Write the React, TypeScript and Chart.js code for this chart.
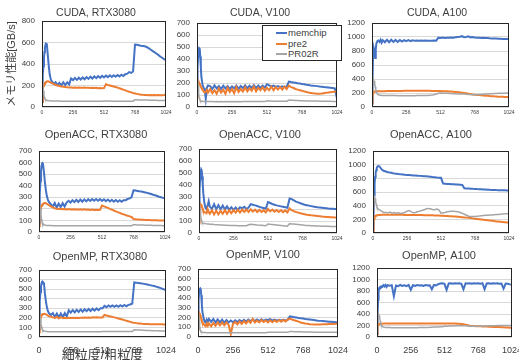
import React, { useEffect, useRef } from "react";
import { Chart, registerables } from "chart.js";

Chart.register(...registerables);

const FONT = '"Liberation Sans", "Noto Sans CJK JP", Arial, sans-serif';
const BLUE = "#4472C4";
const ORANGE = "#ED7D31";
const GRAY = "#A5A5A5";
const TEXT = "#404040";

const seriesNames = ["memchip", "pre2", "PR02R"];

// shared x positions (granularity)
const X = [
  0, 4, 8, 12, 16, 20, 24, 28, 32, 40, 48, 56, 64, 72, 80,
  96, 112, 128, 144, 160, 176, 192, 208, 224, 240, 256, 272, 288, 304, 320, 336,
  352, 368, 384, 400, 416, 432, 448, 464, 480, 496, 512, 528, 544, 560, 576, 592,
  608, 624, 640, 656, 672, 688, 704, 720, 736, 752, 768, 784, 800, 816, 832, 848,
  864, 880, 896, 912, 928, 944, 960, 976, 992, 1008, 1024,
];

const xTicks = [0, 256, 512, 768, 1024];
const yTicks800 = [0, 200, 400, 600, 800];
const yTicks700 = [0, 100, 200, 300, 400, 500, 600, 700];
const yTicks1200 = [0, 200, 400, 600, 800, 1000, 1200];

// ---- CUDA, RTX3080
const cudaRtxMem = [
  50, 200, 300, 380, 450, 510, 550, 575, 590, 585, 480, 380, 300, 260, 240,
  215, 230, 205, 225, 200, 230, 205, 230, 210, 265, 250, 270, 252, 272, 255, 275,
  258, 278, 262, 282, 265, 285, 268, 288, 272, 290, 275, 292, 278, 295, 280, 296,
  282, 298, 285, 300, 288, 305, 310, 325, 318, 330, 580, 578, 575, 570, 568, 565,
  558, 548, 535, 522, 510, 498, 485, 470, 458, 446, 435,
];
const cudaRtxPre2 = [
  50, 120, 170, 195, 205, 215, 222, 228, 232, 238, 240, 238, 232, 228, 222,
  215, 205, 200, 195, 190, 188, 185, 183, 182, 182, 180, 182, 180, 181, 179, 180,
  181, 178, 180, 177, 179, 176, 178, 175, 177, 174, 176, 212, 205, 200, 195, 190,
  186, 180, 174, 168, 162, 155, 148, 142, 136, 130, 126, 122, 118, 115, 113, 112,
  112, 110, 111, 110, 112, 110, 111, 109, 110, 112, 115,
];
const cudaRtxPr02r = [
  150, 240, 200, 150, 110, 90, 78, 70, 66, 62, 60, 58, 57, 57, 56,
  56, 55, 55, 55, 54, 54, 54, 54, 54, 54, 53, 53, 53, 53, 53, 53,
  53, 53, 53, 53, 53, 53, 53, 53, 53, 53, 55, 55, 55, 55, 54, 54,
  54, 54, 54, 54, 54, 54, 54, 54, 54, 54, 68, 67, 66, 66, 65, 65,
  64, 64, 63, 63, 62, 62, 61, 61, 60, 60, 60,
];

// ---- CUDA, V100
const cudaV100Mem = [
  230, 330, 420, 470, 490, 485, 420, 330, 250, 190, 160, 150, 70, 160, 180,
  175, 150, 180, 155, 175, 150, 178, 155, 175, 150, 172, 155, 178, 152, 175, 158,
  180, 155, 178, 160, 182, 158, 180, 160, 178, 162, 190, 180, 172, 178, 168, 175,
  165, 172, 166, 170, 212, 208, 205, 202, 198, 195, 192, 190, 186, 183, 180, 178,
  176, 174, 171, 169, 166, 164, 162, 160, 158, 155, 70,
];
const cudaV100Pre2 = [
  80, 180, 220, 210, 200, 190, 180, 170, 160, 150, 130, 120, 125, 140, 120,
  150, 115, 140, 110, 155, 120, 145, 110, 160, 125, 150, 115, 165, 125, 150, 130,
  165, 130, 155, 135, 170, 130, 160, 140, 165, 135, 160, 140, 170, 140, 165, 145,
  165, 145, 170, 150, 180, 165, 160, 150, 145, 140, 135, 130, 125, 120, 117, 114,
  112, 110, 110, 112, 115, 118, 120, 123, 126, 128, 130,
];
const cudaV100Pr02r = [
  150, 250, 180, 110, 80, 65, 55, 50, 48, 47, 46, 46, 45, 45, 45,
  45, 45, 44, 45, 44, 45, 44, 45, 44, 45, 44, 45, 44, 45, 44, 45,
  45, 45, 45, 45, 45, 45, 45, 45, 45, 45, 52, 50, 49, 48, 48, 47,
  47, 47, 47, 47, 58, 57, 56, 55, 54, 53, 52, 52, 51, 51, 50, 50,
  49, 49, 48, 48, 48, 47, 47, 47, 46, 46, 46,
];

// ---- CUDA, A100
const cudaA100Mem = [
  50, 400, 750, 850, 820, 760, 700, 820, 900, 940, 950, 930, 960, 920, 955,
  925, 960, 925, 960, 930, 958, 930, 958, 935, 955, 940, 955, 942, 952, 945, 950,
  945, 950, 945, 950, 946, 948, 946, 950, 948, 990, 985, 992, 985, 990, 988, 992,
  990, 995, 1000, 1005, 1012, 998, 1000, 1010, 995, 1000, 992, 988, 990, 985, 990, 985,
  985, 982, 980, 978, 980, 976, 975, 972, 970, 970, 968,
];
const cudaA100Pre2 = [
  50, 150, 200, 215, 220, 222, 222, 224, 225, 225, 225, 226, 226, 226, 226,
  226, 227, 228, 228, 229, 229, 230, 230, 230, 231, 231, 231, 231, 232, 232, 232,
  232, 232, 232, 232, 231, 231, 230, 230, 229, 228, 227, 226, 225, 224, 222, 220,
  218, 215, 212, 210, 205, 200, 195, 190, 185, 180, 176, 172, 170, 168, 165, 162,
  160, 157, 155, 152, 150, 148, 146, 145, 143, 142, 140,
];
const cudaA100Pr02r = [
  100, 300, 380, 390, 370, 330, 290, 250, 220, 190, 175, 170, 168, 166, 165,
  165, 164, 164, 163, 163, 163, 162, 162, 162, 162, 162, 162, 162, 162, 162, 163,
  163, 164, 165, 165, 166, 168, 170, 175, 185, 195, 200, 198, 196, 195, 194, 192,
  190, 188, 187, 186, 185, 184, 182, 180, 178, 176, 175, 176, 178, 180, 182, 185,
  187, 189, 191, 193, 194, 195, 196, 197, 198, 199, 200,
];

// ---- OpenACC, RTX3080
const accRtxMem = [
  80, 200, 330, 440, 520, 570, 590, 595, 590, 520, 430, 360, 310, 280, 260,
  240, 220, 250, 210, 245, 215, 250, 220, 255, 270, 255, 275, 258, 278, 260, 280,
  262, 282, 265, 283, 268, 285, 270, 285, 270, 284, 268, 282, 266, 280, 264, 278,
  262, 276, 262, 275, 262, 274, 275, 285, 290, 300, 360, 358, 355, 352, 350, 346,
  342, 338, 333, 328, 322, 317, 311, 305, 300, 295, 290,
];
const accRtxPre2 = [
  50, 120, 170, 200, 215, 225, 232, 238, 242, 248, 250, 248, 244, 238, 232,
  222, 212, 205, 200, 198, 200, 196, 198, 195, 198, 195, 197, 194, 196, 193, 196,
  193, 196, 192, 195, 191, 194, 190, 193, 190, 192, 228, 222, 215, 208, 200, 193,
  186, 178, 172, 165, 158, 152, 146, 140, 135, 130, 112, 110, 108, 107, 106, 105,
  104, 103, 103, 102, 102, 101, 101, 100, 100, 100, 100,
];
const accRtxPr02r = [
  80, 180, 230, 200, 150, 110, 90, 78, 70, 64, 60, 58, 57, 56, 56,
  56, 55, 55, 55, 55, 55, 55, 55, 55, 55, 55, 55, 55, 55, 55, 55,
  55, 55, 55, 55, 55, 55, 55, 55, 55, 55, 55, 55, 55, 55, 55, 55,
  55, 55, 55, 55, 55, 55, 55, 55, 55, 55, 62, 62, 61, 61, 60, 60,
  59, 59, 58, 58, 57, 57, 56, 56, 56, 55, 55,
];

// ---- OpenACC, V100
const accV100Mem = [
  200, 350, 450, 510, 530, 520, 470, 400, 330, 250, 210, 200, 230, 265, 220,
  200, 240, 198, 232, 196, 228, 195, 222, 194, 215, 193, 212, 192, 215, 205, 218,
  200, 212, 240, 235, 230, 225, 218, 212, 208, 203, 258, 250, 242, 235, 230, 226,
  222, 218, 214, 210, 288, 282, 272, 262, 255, 248, 242, 236, 232, 228, 224, 220,
  217, 214, 212, 210, 208, 206, 204, 203, 202, 201, 200,
];
const accV100Pre2 = [
  80, 180, 230, 240, 235, 225, 210, 195, 185, 175, 170, 165, 200, 175, 160,
  190, 155, 185, 155, 185, 160, 190, 160, 190, 165, 190, 170, 195, 170, 195, 175,
  195, 175, 198, 178, 195, 175, 192, 175, 190, 172, 200, 180, 195, 178, 192, 176,
  190, 174, 188, 172, 205, 190, 182, 175, 170, 165, 160, 156, 152, 150, 147, 145,
  143, 141, 139, 137, 136, 134, 133, 132, 131, 130, 128,
];
const accV100Pr02r = [
  150, 250, 200, 150, 110, 95, 88, 84, 82, 80, 78, 76, 75, 74, 73,
  72, 70, 69, 68, 67, 66, 65, 64, 63, 63, 62, 62, 61, 61, 60, 60,
  60, 68, 72, 70, 68, 66, 65, 64, 62, 60, 75, 72, 70, 68, 66, 64,
  62, 60, 58, 56, 78, 76, 74, 72, 70, 68, 66, 64, 63, 62, 61, 60,
  59, 58, 58, 57, 57, 56, 56, 55, 55, 55, 54,
];

// ---- OpenACC, A100
const accA100Mem = [
  50, 300, 550, 720, 820, 880, 920, 950, 970, 980, 975, 955, 935, 920, 910,
  900, 890, 885, 878, 872, 868, 862, 858, 855, 852, 850, 848, 845, 842, 840, 838,
  836, 834, 832, 830, 826, 822, 818, 815, 812, 810, 808, 722, 720, 718, 716, 714,
  712, 710, 708, 706, 704, 655, 652, 650, 648, 646, 645, 643, 642, 640, 638, 636,
  634, 632, 631, 630, 628, 627, 626, 625, 624, 623, 622,
];
const accA100Pre2 = [
  30, 150, 210, 235, 245, 250, 255, 258, 260, 262, 264, 265, 266, 267, 268,
  268, 268, 268, 267, 267, 267, 266, 266, 266, 265, 265, 265, 264, 264, 263, 263,
  262, 262, 261, 260, 260, 259, 258, 257, 256, 255, 254, 252, 250, 248, 246, 244,
  242, 240, 237, 234, 231, 228, 225, 222, 218, 214, 210, 206, 202, 198, 194, 190,
  186, 182, 178, 174, 170, 167, 164, 161, 158, 155, 152,
];
const accA100Pr02r = [
  100, 350, 480, 520, 500, 460, 420, 390, 370, 350, 340, 330, 320, 310, 300,
  300, 295, 305, 290, 300, 288, 295, 285, 292, 300, 320, 330, 310, 295, 300, 310,
  320, 330, 340, 350, 360, 355, 345, 340, 350, 340, 290, 295, 300, 310, 315, 320,
  318, 315, 310, 300, 290, 275, 260, 245, 240, 240, 242, 245, 248, 252, 255, 258,
  260, 263, 265, 268, 270, 272, 275, 278, 280, 283, 285,
];

// ---- OpenMP, RTX3080
const mpRtxMem = [
  80, 250, 380, 470, 530, 560, 575, 580, 580, 560, 450, 370, 310, 270, 250,
  230, 250, 210, 245, 205, 245, 210, 250, 215, 280, 255, 282, 258, 285, 262, 288,
  265, 290, 270, 293, 272, 296, 276, 298, 280, 300, 300, 325, 312, 330, 315, 330,
  315, 330, 316, 332, 318, 334, 320, 336, 340, 350, 570, 568, 565, 562, 558, 555,
  551, 547, 542, 537, 532, 526, 520, 513, 505, 497, 488,
];
const mpRtxPre2 = [
  50, 130, 180, 205, 220, 228, 235, 238, 240, 242, 240, 236, 230, 224, 218,
  212, 205, 200, 210, 195, 205, 198, 200, 197, 200, 198, 200, 198, 201, 199, 202,
  200, 203, 201, 204, 202, 205, 203, 205, 203, 205, 204, 230, 225, 220, 215, 210,
  205, 200, 194, 188, 182, 176, 170, 164, 158, 152, 148, 145, 142, 140, 138, 137,
  136, 135, 134, 134, 133, 133, 132, 132, 132, 131, 130,
];
const mpRtxPr02r = [
  80, 200, 230, 190, 140, 110, 90, 78, 70, 64, 60, 58, 57, 56, 56,
  55, 55, 55, 55, 55, 55, 55, 55, 55, 55, 55, 55, 55, 55, 55, 55,
  55, 55, 55, 55, 55, 55, 55, 55, 55, 55, 57, 57, 57, 57, 57, 57,
  57, 57, 57, 57, 57, 57, 57, 57, 57, 57, 75, 74, 73, 72, 71, 70,
  69, 68, 67, 66, 65, 64, 64, 63, 63, 62, 62,
];

// ---- OpenMP, V100
const mpV100Mem = [
  250, 380, 460, 495, 500, 490, 430, 340, 260, 200, 160, 150, 180, 160, 185,
  155, 185, 150, 180, 150, 178, 148, 175, 150, 170, 152, 172, 155, 175, 158, 178,
  160, 180, 162, 182, 165, 180, 165, 182, 166, 180, 175, 185, 170, 180, 168, 178,
  170, 178, 170, 176, 212, 208, 204, 200, 196, 193, 190, 186, 183, 180, 177, 174,
  171, 168, 166, 164, 162, 160, 158, 156, 154, 152, 150,
];
const mpV100Pre2 = [
  80, 200, 250, 240, 225, 205, 185, 165, 150, 135, 120, 110, 140, 115, 140,
  110, 145, 115, 150, 120, 150, 120, 150, 125, 30, 135, 155, 130, 160, 135, 165,
  140, 170, 145, 185, 150, 170, 150, 175, 155, 170, 150, 172, 152, 172, 155, 175,
  158, 175, 160, 178, 190, 180, 172, 165, 158, 150, 145, 140, 136, 132, 130, 128,
  128, 128, 129, 130, 131, 132, 133, 134, 135, 136, 138,
];
const mpV100Pr02r = [
  120, 260, 180, 110, 75, 60, 52, 50, 48, 47, 46, 46, 45, 45, 45,
  45, 45, 45, 45, 45, 45, 45, 45, 45, 45, 45, 45, 45, 45, 45, 45,
  45, 45, 45, 45, 45, 45, 45, 45, 45, 45, 50, 49, 49, 48, 48, 48,
  48, 48, 48, 48, 57, 56, 55, 54, 53, 53, 52, 52, 51, 51, 51, 50,
  50, 50, 49, 49, 49, 48, 48, 48, 48, 48, 48,
];

// ---- OpenMP, A100
const mpA100Mem = [
  50, 350, 650, 800, 850, 860, 870, 865, 880, 870, 900, 880, 905, 870, 900,
  890, 900, 710, 895, 885, 905, 890, 900, 885, 905, 820, 900, 890, 905, 895, 900,
  890, 905, 895, 900, 830, 905, 895, 920, 930, 935, 925, 820, 930, 935, 925, 935,
  930, 935, 925, 830, 935, 930, 935, 925, 935, 930, 935, 925, 935, 830, 930, 935,
  925, 935, 930, 935, 925, 930, 840, 930, 925, 915, 910,
];
const mpA100Pre2 = [
  50, 160, 210, 225, 228, 230, 230, 232, 232, 232, 233, 233, 233, 234, 234,
  234, 234, 235, 235, 235, 235, 235, 236, 236, 236, 236, 236, 236, 236, 236, 236,
  236, 236, 236, 236, 236, 236, 236, 236, 236, 235, 235, 235, 235, 234, 234, 233,
  232, 230, 226, 220, 212, 204, 196, 192, 190, 188, 186, 185, 184, 183, 182, 180,
  178, 176, 175, 173, 172, 170, 168, 166, 164, 162, 160,
];
const mpA100Pr02r = [
  100, 300, 390, 400, 370, 330, 280, 240, 210, 185, 172, 168, 166, 165, 165,
  164, 163, 163, 162, 162, 162, 161, 161, 161, 162, 162, 162, 163, 163, 164, 164,
  165, 166, 167, 168, 170, 172, 174, 176, 178, 180, 185, 188, 190, 192, 193, 194,
  195, 196, 196, 195, 194, 192, 190, 188, 186, 185, 185, 186, 188, 190, 192, 194,
  195, 196, 197, 198, 199, 200, 200, 201, 201, 202, 202,
];

type PanelCfg = {
  title: string;
  series: number[][];
  yTicks: number[];
  L: number; T: number; R: number; B: number;
  cx: number; cy: number; titleSize: number;
  YW: number; XH: number; xFont: number; xPad: number;
  yTitle?: string; xTitle?: string;
};

const panels: PanelCfg[] = [
  { title: "CUDA, RTX3080", series: [cudaRtxMem, cudaRtxPre2, cudaRtxPr02r], yTicks: yTicks800,
    L: 42, T: 21, R: 166, B: 107, cx: 96, cy: 13, titleSize: 10.5, YW: 42, XH: 12, xFont: 5, xPad: 3,
    yTitle: "メモリ性能[GB/s]" },
  { title: "CUDA, V100", series: [cudaV100Mem, cudaV100Pre2, cudaV100Pr02r], yTicks: yTicks700,
    L: 197, T: 23, R: 337, B: 107, cx: 260, cy: 13, titleSize: 10.5, YW: 30, XH: 12, xFont: 5, xPad: 3 },
  { title: "CUDA, A100", series: [cudaA100Mem, cudaA100Pre2, cudaA100Pr02r], yTicks: yTicks1200,
    L: 372, T: 23, R: 509, B: 107, cx: 437, cy: 13, titleSize: 10.5, YW: 30, XH: 12, xFont: 5, xPad: 3 },
  { title: "OpenACC, RTX3080", series: [accRtxMem, accRtxPre2, accRtxPr02r], yTicks: yTicks700,
    L: 39, T: 151, R: 165, B: 232, cx: 96, cy: 135, titleSize: 11, YW: 30, XH: 12, xFont: 5, xPad: 3 },
  { title: "OpenACC, V100", series: [accV100Mem, accV100Pre2, accV100Pr02r], yTicks: yTicks700,
    L: 199, T: 149, R: 337, B: 233, cx: 260, cy: 135, titleSize: 11, YW: 30, XH: 12, xFont: 5, xPad: 3 },
  { title: "OpenACC, A100", series: [accA100Mem, accA100Pre2, accA100Pr02r], yTicks: yTicks1200,
    L: 373, T: 151, R: 509, B: 233, cx: 431, cy: 135, titleSize: 11, YW: 30, XH: 12, xFont: 5, xPad: 3 },
  { title: "OpenMP, RTX3080", series: [mpRtxMem, mpRtxPre2, mpRtxPr02r], yTicks: yTicks700,
    L: 39, T: 270, R: 166, B: 337, cx: 100, cy: 257, titleSize: 11, YW: 30, XH: 26, xFont: 9, xPad: 8,
    xTitle: "細粒度/粗粒度" },
  { title: "OpenMP, V100", series: [mpV100Mem, mpV100Pre2, mpV100Pr02r], yTicks: yTicks700,
    L: 198, T: 269, R: 338, B: 337, cx: 263, cy: 255, titleSize: 11, YW: 30, XH: 20, xFont: 9, xPad: 8 },
  { title: "OpenMP, A100", series: [mpA100Mem, mpA100Pre2, mpA100Pr02r], yTicks: yTicks1200,
    L: 377, T: 268, R: 512, B: 337, cx: 439, cy: 256, titleSize: 11, YW: 30, XH: 20, xFont: 9, xPad: 8 },
];

const colors = [BLUE, ORANGE, GRAY];
const widths = [2, 2, 1.5];

const framePlugin = {
  id: "frame",
  afterDatasetsDraw(chart: any) {
    const { ctx, chartArea: a } = chart;
    ctx.save();
    ctx.strokeStyle = "#262626";
    ctx.lineWidth = 1;
    ctx.strokeRect(a.left + 0.5, a.top + 0.5, a.right - a.left - 1, a.bottom - a.top - 1);
    ctx.restore();
  },
};

function Panel({ p }: { p: PanelCfg }) {
  const ref = useRef<HTMLCanvasElement>(null);
  const s = p.titleSize;
  const top = Math.round(p.cy - 0.6 * s);
  const RP = 2 * p.cx - p.L + p.YW - p.R;
  const W = p.YW + (p.R - p.L) + RP;
  const H = p.B - top + p.XH;
  const left = p.L - p.YW;
  const titlePadBottom = p.T - top - 1.2 * s;

  useEffect(() => {
    if (!ref.current) return;
    const datasets = p.series.map((arr, i) => ({
      label: seriesNames[i],
      data: X.map((x, j) => ({ x, y: arr[j] })),
      borderColor: colors[i],
      backgroundColor: colors[i],
      borderWidth: widths[i],
      pointRadius: 0,
      tension: 0,
      fill: false,
      order: 3 - i,
    }));
    const chart = new Chart(ref.current, {
      type: "line",
      data: { datasets },
      options: {
        responsive: false,
        animation: false,
        devicePixelRatio: 1,
        layout: { padding: 0 },
        plugins: {
          legend: { display: false },
          tooltip: { enabled: false },
          title: {
            display: true,
            text: p.title,
            color: TEXT,
            font: { family: FONT, size: s, weight: "normal" },
            padding: { top: 0, bottom: titlePadBottom },
          },
        },
        scales: {
          x: {
            type: "linear",
            min: 0,
            max: 1024,
            grid: { display: false, drawTicks: false },
            border: { display: false },
            afterBuildTicks: (sc: any) => {
              sc.ticks = xTicks.map((v) => ({ value: v }));
            },
            ticks: {
              font: { family: FONT, size: p.xFont },
              color: TEXT,
              padding: p.xPad,
              maxRotation: 0,
              autoSkip: false,
              callback: (v: any) => String(v),
            },
            title: p.xTitle
              ? { display: true, text: p.xTitle, color: TEXT, font: { family: FONT, size: 13 }, padding: { top: 0, bottom: 0 } }
              : { display: false },
            afterFit: (sc: any) => {
              sc.height = p.XH;
              sc.paddingLeft = 0;
              sc.paddingRight = RP;
              sc.paddingTop = 0;
              sc.paddingBottom = 0;
            },
          },
          y: {
            type: "linear",
            min: 0,
            max: p.yTicks[p.yTicks.length - 1],
            afterBuildTicks: (sc: any) => {
              sc.ticks = p.yTicks.map((v) => ({ value: v }));
            },
            grid: { color: "#D9D9D9", lineWidth: 1, drawTicks: false },
            border: { display: false },
            ticks: {
              font: { family: FONT, size: 8 },
              color: TEXT,
              padding: 7,
              autoSkip: false,
              callback: (v: any) => String(v),
            },
            title: p.yTitle
              ? { display: true, text: p.yTitle, color: TEXT, font: { family: FONT, size: 11 }, padding: { top: 5, bottom: 0 } }
              : { display: false },
            afterFit: (sc: any) => {
              sc.width = p.YW;
              sc.paddingTop = 0;
              sc.paddingBottom = 0;
            },
          },
        },
      } as any,
      plugins: [framePlugin],
    });
    return () => chart.destroy();
  }, []);

  return (
    <canvas
      ref={ref}
      width={W}
      height={H}
      style={{ position: "absolute", left, top, width: W, height: H }}
    />
  );
}

function Legend() {
  const rows = [
    { name: seriesNames[0], color: BLUE, y: 7 },
    { name: seriesNames[1], color: ORANGE, y: 17.5 },
    { name: seriesNames[2], color: GRAY, y: 28 },
  ];
  return (
    <div
      style={{
        position: "absolute",
        left: 262,
        top: 25,
        width: 80,
        height: 36,
        boxSizing: "border-box",
        border: "1px solid #262626",
        background: "#fff",
      }}
    >
      {rows.map((r) => (
        <div key={r.name}>
          <div
            style={{
              position: "absolute",
              left: 13,
              top: r.y - 1,
              width: 11,
              height: 2,
              background: r.color,
            }}
          />
          <div
            style={{
              position: "absolute",
              left: 25,
              top: r.y - 6,
              height: 12,
              lineHeight: "12px",
              fontFamily: FONT,
              fontSize: 9.5,
              color: TEXT,
              whiteSpace: "nowrap",
            }}
          >
            {r.name}
          </div>
        </div>
      ))}
    </div>
  );
}

export default function App() {
  return (
    <div
      style={{
        position: "fixed",
        left: 0,
        top: 0,
        width: 519,
        height: 360,
        overflow: "hidden",
        background: "#fff",
      }}
    >
      {panels.map((p) => (
        <Panel key={p.title} p={p} />
      ))}
      <Legend />
    </div>
  );
}
